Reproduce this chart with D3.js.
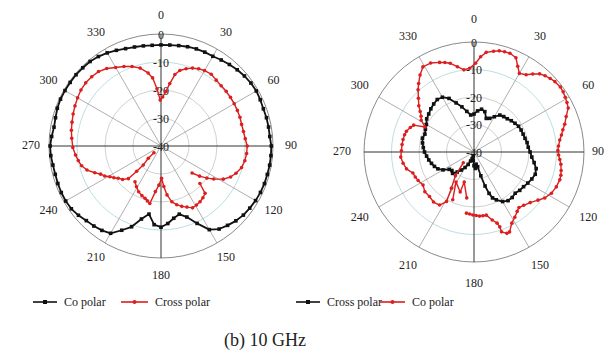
<!DOCTYPE html>
<html>
<head>
<meta charset="utf-8">
<script src="https://cdn.jsdelivr.net/npm/d3@7"></script>
<style>
  body { margin: 0; background: #fff; }
  text { font-family: "Liberation Serif", "Times New Roman", serif; fill: #222; }
</style>
</head>
<body>
<svg id="chart" width="606" height="358"></svg>
<script>
// ========== DATA ==========
const angleTicks = [0, 30, 60, 90, 120, 150, 180, 210, 240, 270, 300, 330];
const radialTicks = [0, -10, -20, -30, -40];

// left plot: co polar (black)
const leftCoAngles = [0, 5, 10, 15, 20, 25, 30, 35, 40, 45, 50, 55, 60, 65, 70, 75, 80, 85,
  90, 95, 100, 105, 110, 115, 120, 125, 130, 135, 140, 145, 150, 155, 160, 165, 170, 175,
  180, 185, 190, 195, 200, 205, 210, 215, 220, 225, 230, 235, 240, 245, 250, 255, 260, 265,
  270, 275, 280, 285, 290, 295, 300, 305, 310, 315, 320, 325, 330, 335, 340, 345, 350, 355];
const leftCoDb = [-3.9, -3.8, -3.6, -3.3, -3.1, -3.0, -3.0, -2.5, -2.0, -1.5, -1.1, -0.8, -0.7, -0.9, -1.1, -1.0, -1.0, -1.0,
  -0.6, -0.6, -0.6, -0.7, -0.7, -0.8, -1.0, -1.3, -1.6, -2.2, -3.0, -3.8, -5.5, -9.5, -13.0, -14.8, -13.8, -12.2,
  -11.0, -11.8, -15.3, -13.0, -9.3, -6.8, -4.0, -3.2, -2.7, -2.3, -1.5, -0.9, -0.7, -0.7, -0.8, -0.9, -0.8, -0.5,
  -0.4, -0.8, -1.2, -1.0, -0.6, -0.4, -0.4, -0.4, -0.4, -0.5, -0.6, -1.0, -1.6, -2.3, -3.0, -3.4, -3.7, -3.9];

// left plot: cross polar (red), null = break in the trace
const leftCrossAngles = [226, 226, 223, 224, 225, 229, 233, 236, 239, 242, 245, 248, 252, 256, 260, 264, 269,
  275, 280, 285, 290, 295, 300, 305, 310, 315, 320, 325, 330, 335, 340, 345, 350, 353, 356, 359,
  2, 5, 8, 11, 14, 18, 22, 26, 30, 35, 40, 45, 50, 55, 60, 65, 70, 75, 80, 85, 90, 95, 100, 105,
  110, 114, 118, 122, 125, 128, 131, 132,
  134, 137, 141, 145, 149, 153, 157, 161, 165, 169, 173, 176, 179, 183, 187, 191, 194, 197, 201, 206, 211, 216];
const leftCrossDb = [-36.5, -33.7, -30.7, -27.5, -23.5, -21.8, -20.9, -19.7, -18.7, -17.2, -16.2, -14.5, -12.2, -10.8, -10.0, -9.3, -8.5,
  -8.0, -7.5, -7.1, -6.6, -6.1, -5.6, -5.1, -4.9, -5.0, -5.3, -6.2, -7.6, -8.7, -9.8, -11.2, -13.5, -15.5, -19.5, -23.6,
  -22.5, -20.5, -17.5, -14.0, -12.2, -11.0, -10.0, -9.3, -8.9, -8.7, -9.3, -9.6, -9.6, -9.7, -9.8, -9.9, -10.0, -10.2, -10.1, -9.8, -9.2, -9.3, -9.6, -10.2,
  -11.5, -12.8, -14.8, -17.8, -20.0, -22.5, -25.3, null,
  -20.7, -16.9, -16.2, -15.7, -15.4, -15.2, -16.3, -17.2, -18.3, -19.7, -22.4, -25.5, -28.5, -26.0, -23.6, -19.1, -19.8, -20.5, -21.0, -21.8, -23.0, -24.2];

// right plot: cross polar (black)
const rightCrossAngles = [0, 5, 10, 15, 20, 25, 30, 35, 40, 45, 50, 55, 60, 65, 70, 75, 80, 85,
  90, 95, 100, 105, 110, 115, 120, 125, 130, 135, 140, 145, 150, 155, 158, 160, 162, 164, 166,
  170, 175, 180, 185, 190, 195, 200, 205, 210, 215, 220, 225, 230, 235, 240, 245, 250, 255, 260, 265,
  270, 275, 280, 285, 290, 295, 300, 305, 310, 315, 320, 325, 330, 335, 340, 345, 350, 355];
const rightCrossDb = [-26.2, -25.0, -24.2, -24.8, -27.0, -26.5, -25.2, -23.6, -23.2, -22.9, -22.3, -21.8, -21.3, -21.1, -21.0, -20.8, -20.4, -20.2,
  -19.6, -18.9, -17.8, -16.6, -16.3, -16.8, -17.4, -18.0, -18.3, -18.8, -18.4, -18.4, -19.2, -20.8, -22.0, -24.0, -27.0, -31.0, -34.5,
  -35.5, -34.0, -35.0, -37.0, -38.5, -37.5, -36.5, -35.0, -33.5, -32.0, -30.5, -29.0, -29.5, -29.0, -27.0, -25.5, -24.7, -24.0, -23.3, -22.7,
  -22.0, -21.5, -21.0, -20.6, -21.0, -20.5, -20.0, -19.0, -18.5, -17.8, -17.2, -16.7, -17.0, -18.5, -21.0, -23.0, -25.0, -26.5];

// right plot: co polar (red), null = break in the trace
const rightCoAngles = [225, 218, 212, 209, 213, 219, 225, 231, 237, 243, 247, 251, 256, 261, 266, 271, 276, 280, 284, 287,
  291, 294, 297, 301, 304, 307, 310, 314, 318, 321, 325, 329, 334, 339, 342, 345, 349, 353, 357,
  1, 4, 7, 11, 14, 17, 20, 24, 27, 30, 34, 37, 40, 43, 46, 49, 53, 56, 59, 62, 65, 69, 73, 76, 79, 82, 86, 89,
  92, 95, 98, 102, 105, 108, 113, 118, 123, 127, 132, 137, 141, 144, 148, 152, 156, 158, 161, 161, 162, 165, 169,
  172, 175, 178, 181, 184, 187, 190,
  204, 211, 199, 198, 189];
const rightCoDb = [-34.5, -29.0, -24.5, -19.4, -17.0, -16.6, -17.1, -17.0, -17.9, -17.2, -16.8, -16.5, -14.7, -13.9, -13.3, -13.6, -13.7, -13.8, -14.0, -14.3,
  -15.2, -16.0, -20.0, -17.6, -16.8, -15.5, -13.8, -11.9, -9.6, -8.0, -5.8, -3.9, -4.0, -5.1, -5.8, -6.6, -8.4, -9.9, -9.5,
  -7.7, -5.3, -3.5, -2.7, -2.1, -1.9, -1.8, -2.5, -5.0, -7.0, -6.1, -4.5, -2.9, -2.1, -1.5, -1.0, -0.7, -0.9, -1.3, -1.7, -2.2, -4.1, -5.5, -6.7, -7.6, -8.5, -9.2, -9.5,
  -9.2, -8.7, -8.1, -7.6, -7.3, -7.2, -7.5, -8.1, -9.3, -10.9, -12.5, -13.5, -14.0, -13.3, -12.0, -10.7, -8.2, -8.1, -9.3, -11.2, -12.8, -14.4, -16.6,
  -16.6, -16.6, -16.9, -17.1, -17.4, -17.6, null,
  -21.0, -27.3, -24.6, -28.5, -23.1];

const BLACK = '#111';
const RED = '#dc1e1e';
const W = 606;

// ========== DRAW ==========
const svg = d3.select('#chart');
svg.append('rect').attr('width', W).attr('height', 358).attr('fill', '#fff');

function toPoints(angles, dbs) {
  return angles.map((a, i) => ({ a, v: dbs[i] }));
}

function drawPolar(cfg) {
  const g = svg.append('g').attr('transform', `translate(${cfg.cx},${cfg.cy})`);
  const r = d3.scaleLinear().domain([-40, 0]).range([0, cfg.R]);
  const rad = a => a * Math.PI / 180;

  // rings
  g.selectAll('.ring').data(radialTicks.filter(t => t > -40)).enter().append('circle')
    .attr('r', d => r(d)).attr('fill', 'none')
    .attr('stroke', d => d === 0 ? '#8a8a8a' : (d === -10 ? '#a9d6d8' : '#c4c4c4'))
    .attr('stroke-width', d => d === 0 ? 1 : 0.8);

  // spokes
  g.selectAll('.spoke').data(angleTicks).enter().append('line')
    .attr('x1', 0).attr('y1', 0)
    .attr('x2', d => cfg.R * Math.sin(rad(d)))
    .attr('y2', d => -cfg.R * Math.cos(rad(d)))
    .attr('stroke', d => d % 90 === 0 ? '#333' : '#9a9a9a')
    .attr('stroke-width', d => d % 90 === 0 ? 1 : 0.8);

  // angle labels (kept inside the page width)
  g.selectAll('.alabel').data(angleTicks).enter().append('text')
    .attr('x', d => Math.min(cfg.labelR * Math.sin(rad(d)), W - cfg.cx - 8))
    .attr('y', d => -cfg.labelR * Math.cos(rad(d)))
    .attr('text-anchor', 'middle').attr('dominant-baseline', 'middle')
    .style('font-size', '12px').text(d => d);

  // radial labels
  g.selectAll('.rlabel').data(radialTicks).enter().append('text')
    .attr('x', 0).attr('y', d => -r(d) + 2)
    .attr('text-anchor', 'middle').attr('dominant-baseline', 'middle')
    .style('font-size', '12px').text(d => d);

  // series
  cfg.series.forEach(s => {
    const pts = toPoints(s.angles, s.db);
    const line = d3.lineRadial()
      .angle(d => rad(d.a)).radius(d => r(d.v))
      .defined(d => d.v != null)
      .curve(s.closed ? d3.curveLinearClosed : d3.curveLinear);
    g.append('path').datum(pts).attr('d', line)
      .attr('fill', 'none').attr('stroke', s.color).attr('stroke-width', s.width)
      .attr('stroke-linejoin', 'round');

    const valid = pts.filter(d => d.v != null);
    if (s.marker === 'square') {
      g.selectAll(null).data(valid).enter().append('rect')
        .attr('x', d => r(d.v) * Math.sin(rad(d.a)) - 1.8)
        .attr('y', d => -r(d.v) * Math.cos(rad(d.a)) - 1.8)
        .attr('width', 3.6).attr('height', 3.6).attr('fill', s.color);
    } else {
      g.selectAll(null).data(valid).enter().append('circle')
        .attr('cx', d => r(d.v) * Math.sin(rad(d.a)))
        .attr('cy', d => -r(d.v) * Math.cos(rad(d.a)))
        .attr('r', 1.8).attr('fill', s.color);
    }
  });
}

drawPolar({
  cx: 161, cy: 146, R: 112, labelR: 130,
  series: [
    { angles: leftCoAngles, db: leftCoDb, color: BLACK, width: 1.8, marker: 'square', closed: true },
    { angles: leftCrossAngles, db: leftCrossDb, color: RED, width: 1.4, marker: 'circle', closed: false }
  ]
});

drawPolar({
  cx: 474, cy: 152, R: 110, labelR: 132,
  series: [
    { angles: rightCrossAngles, db: rightCrossDb, color: BLACK, width: 1.8, marker: 'square', closed: true },
    { angles: rightCoAngles, db: rightCoDb, color: RED, width: 1.4, marker: 'circle', closed: false }
  ]
});

// Legends
function legendItem(x, y, len, color, marker, label) {
  svg.append('line').attr('x1', x).attr('x2', x + len).attr('y1', y).attr('y2', y)
    .attr('stroke', color).attr('stroke-width', 1.6);
  if (marker === 'square') {
    svg.append('rect').attr('x', x + len / 2 - 2).attr('y', y - 2).attr('width', 4).attr('height', 4).attr('fill', color);
  } else {
    svg.append('circle').attr('cx', x + len / 2).attr('cy', y).attr('r', 2).attr('fill', color);
  }
  svg.append('text').attr('x', x + len + 7).attr('y', y + 4).style('font-size', '12px').text(label);
}

legendItem(33, 302, 24, BLACK, 'square', 'Co polar');
legendItem(121, 302, 27, RED, 'circle', 'Cross polar');
legendItem(296, 302, 24, BLACK, 'square', 'Cross polar');
legendItem(380, 302, 25, RED, 'circle', 'Co polar');

svg.append('text').attr('x', 265).attr('y', 346).attr('text-anchor', 'middle')
  .style('font-size', '18px').text('(b) 10 GHz');
</script>
</body>
</html>
